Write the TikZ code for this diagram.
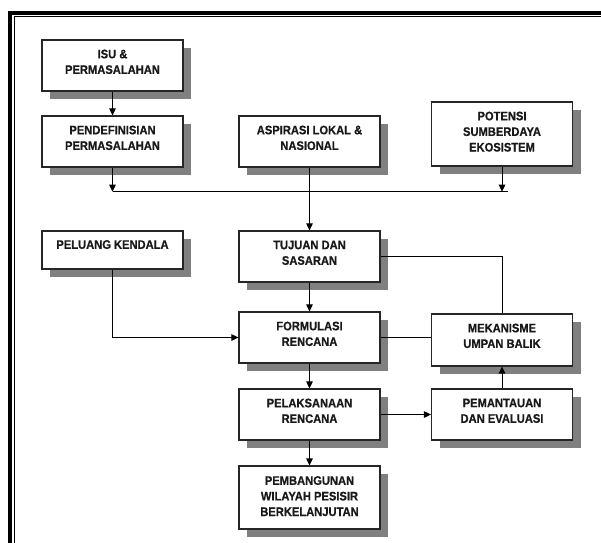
\documentclass[tikz,border=0pt]{standalone}
\usepackage{fontspec}
\setmainfont{Liberation Sans}
\newfontfamily\lblfont{Liberation Sans}[UprightFeatures={FakeStretch=0.9},BoldFeatures={FakeStretch=0.9,FakeBold=0.6}]
\usetikzlibrary{arrows.meta,shadows,calc}
\tikzset{
  flowbox/.style={draw=black!85, line width=1.1pt, fill=white, rectangle, inner sep=0pt,
    minimum width=141pt, minimum height=51pt,
    drop shadow={shadow xshift=8pt, shadow yshift=-8pt, fill=black!50, opacity=1}},
  lbl/.style={font=\lblfont\bfseries\fontsize{12.4}{15.6}\selectfont, align=center, inner sep=0pt, anchor=north, text=black!90},
  conn/.style={line width=0.9pt, draw=black},
  arr/.style={conn, -{Triangle[length=7pt,width=6.5pt]}}
}
\newcommand\fbx[5]{%
  \node[flowbox, minimum height=#3pt] (#1) at (#2) {};
  \node[lbl] (#1t) at ($(#1.north)+(0,#4)$) {#5};
}
\begin{document}
\begin{tikzpicture}[x=1pt,y=-1pt]
\useasboundingbox (0,0) rectangle (601,542);
% frame
\draw[line width=4pt] (10,560) -- (10,13) -- (620,13);
\draw[line width=1.2pt] (14.3,560) -- (14.3,16.6) -- (620,16.6);
% boxes
\fbx{isu}{112.5,65.5}{51}{10}{ISU \&\\PERMASALAHAN}
\fbx{pend}{112.5,141.5}{51}{10}{PENDEFINISIAN\\PERMASALAHAN}
\fbx{asp}{309.5,141.5}{51}{10}{ASPIRASI LOKAL \&\\NASIONAL}
\fbx{pot}{502,134}{64}{10}{POTENSI\\SUMBERDAYA\\EKOSISTEM}
\fbx{pel}{112.5,250}{38}{9.5}{PELUANG KENDALA}
\fbx{tuj}{309.5,256.5}{51}{10}{TUJUAN DAN\\SASARAN}
\fbx{for}{309.5,337.5}{51}{10}{FORMULASI\\RENCANA}
\fbx{mek}{502,340}{52}{10}{MEKANISME\\UMPAN BALIK}
\fbx{plk}{309.5,414.5}{51}{10}{PELAKSANAAN\\RENCANA}
\fbx{pem}{502,414.5}{51}{10}{PEMANTAUAN\\DAN EVALUASI}
\fbx{pbg}{309.5,497.5}{63}{10.5}{PEMBANGUNAN\\WILAYAH PESISIR\\BERKELANJUTAN}
% connectors
\coordinate (barL) at (112.5,191.7);
\coordinate (barR) at (508,191.7);
\draw[arr] (isu.south) -- (pend.north);
\draw[arr] (pend.south) -- (pend.south |- barL);
\draw[arr] (pot.south) -- (pot.south |- barL);
\draw[conn] (barL) -- (barR);
\draw[arr] (asp.south) -- (tuj.north);
\draw[arr] (pel.south) |- (for.west);
\draw[arr] (tuj.south) -- (for.north);
\draw[conn] (tuj.east) -| (mek.north);
\draw[conn] (for.east) -- (for.east -| mek.west);
\draw[arr] (for.south) -- (plk.north);
\draw[arr] (plk.east) -- (pem.west);
\draw[arr] (pem.north) -- (mek.south);
\draw[arr] (plk.south) -- (pbg.north);
\end{tikzpicture}
\end{document}
